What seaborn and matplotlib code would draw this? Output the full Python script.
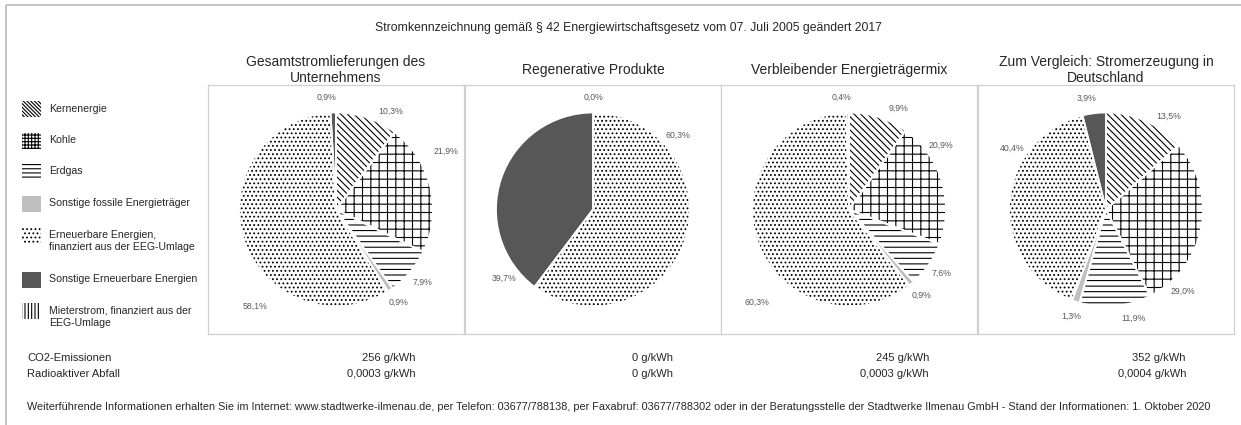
import numpy as np
import matplotlib
matplotlib.use("Agg")
import matplotlib.pyplot as plt
from matplotlib.patches import Rectangle
import seaborn as sns

# --- data ---
categories = [
    "Kernenergie",
    "Kohle",
    "Erdgas",
    "Sonstige fossile Energieträger",
    "Erneuerbare Energien,\nfinanziert aus der EEG-Umlage",
    "Sonstige Erneuerbare Energien",
    "Mieterstrom, finanziert aus der\nEEG-Umlage",
]
panel_titles = [
    "Gesamtstromlieferungen des\nUnternehmens",
    "Regenerative Produkte",
    "Verbleibender Energieträgermix",
    "Zum Vergleich: Stromerzeugung in\nDeutschland",
]
gesamt = [10.3, 21.9, 7.9, 0.9, 58.1, 0.9, 0.0]
regenerativ = [0.0, 0.0, 0.0, 0.0, 60.3, 39.7, 0.0]
verbleibend = [9.9, 20.9, 7.6, 0.9, 60.3, 0.4, 0.0]
deutschland = [13.5, 29.0, 11.9, 1.3, 40.4, 3.9, 0.0]
co2_values = ["256", "0", "245", "352"]
abfall_values = ["0,0003", "0", "0,0003", "0,0004"]

title = "Stromkennzeichnung gemäß § 42 Energiewirtschaftsgesetz vom 07. Juli 2005 geändert 2017"
footer = ("Weiterführende Informationen erhalten Sie im Internet: www.stadtwerke-ilmenau.de, "
          "per Telefon: 03677/788138, per Faxabruf: 03677/788302 oder in der Beratungsstelle "
          "der Stadtwerke Ilmenau GmbH - Stand der Informationen: 1. Oktober 2020")

# --- styling ---
sns.set_theme(style="white")
plt.rcParams["font.family"] = ["Liberation Sans", "DejaVu Sans"]
plt.rcParams["hatch.linewidth"] = 0.8

face_colors = ["white", "white", "white", "#bfbfbf", "white", "#575757", "white"]
pie_hatches = ["\\" * 5, "++", "---", "", "....", "", "||||"]
legend_hatches = ["\\" * 9, "+++++", "----", "", "....", "", "|||||"]
label_color = "#595959"
box_color = "#d0d0d0"

# label placement (angle in degrees, radius in pie radii) where Excel moved labels
label_angles = [
    {0: 61, 1: 28, 4: -130, 5: 95},
    {0: 90, 4: 41, 5: -142},
    {0: 64, 1: 35, 4: -135, 5: 94},
    {0: 56, 1: -47, 2: -76, 4: 147, 5: 100},
]
label_radius = [
    {1: 1.28, 4: 1.3},
    {},
    {4: 1.35},
    {},
]
zero_labels = [[], [0], [], []]

W, H = 1241, 425
fig = plt.figure(figsize=(W / 100, H / 100), dpi=100)

bg = fig.add_axes([0, 0, 1, 1])
bg.set_xlim(0, W)
bg.set_ylim(H, 0)
bg.axis("off")

# outer frame (right/bottom edges fall outside the picture)
bg.add_patch(Rectangle((6, 5), W + 10, H + 10, fill=False, edgecolor="#bfbfbf", lw=1.3))

bg.text(628, 28, title, ha="center", va="center", fontsize=8.8)

# legend
y = 109
for cat, fc, hatch in zip(categories, face_colors, legend_hatches):
    bg.add_patch(Rectangle((22, y - 8), 19, 16, facecolor=fc, hatch=hatch,
                           edgecolor="black", lw=0))
    bg.text(49, y - 5.5, cat, ha="left", va="top", fontsize=7.6, linespacing=1.3)
    y += 31.5 + 13 * cat.count("\n")

# pies
box_left = [208, 465, 721, 978]
box_w, box_top, box_h = 256, 85, 249
radius_px = 97
panels = [gesamt, regenerativ, verbleibend, deutschland]

for i, values in enumerate(panels):
    ax = fig.add_axes([box_left[i] / W, 1 - (box_top + box_h) / H, box_w / W, box_h / H])
    ax.pie(values, startangle=90, counterclock=False, colors=face_colors,
           hatch=pie_hatches, wedgeprops=dict(edgecolor="black", linewidth=0),
           frame=True)
    wedges, _ = ax.pie(values, startangle=90, counterclock=False,
                       colors=["none"] * len(values),
                       wedgeprops=dict(edgecolor="white", linewidth=1.3), frame=True)
    for j, (w, v) in enumerate(zip(wedges, values)):
        if v <= 0 and j not in zero_labels[i]:
            continue
        ang = label_angles[i].get(j, (w.theta1 + w.theta2) / 2)
        r = label_radius[i].get(j, 1.16)
        txt = f"{v:.1f}".replace(".", ",") + "%"
        ax.text(r * np.cos(np.radians(ang)), r * np.sin(np.radians(ang)), txt,
                ha="center", va="center", fontsize=6.3, color=label_color)
    ax.set_xlim(-box_w / 2 / radius_px, box_w / 2 / radius_px)
    ax.set_ylim(-box_h / 2 / radius_px, box_h / 2 / radius_px)
    ax.set_aspect("equal", adjustable="datalim")
    ax.set_xticks([])
    ax.set_yticks([])
    for s in ax.spines.values():
        s.set_visible(True)
        s.set_color(box_color)
        s.set_linewidth(0.9)

    cx = box_left[i] + box_w / 2
    bg.text(cx, 70, panel_titles[i], ha="center", va="center", fontsize=10,
            linespacing=1.15)
    right = box_left[i] + box_w - 48
    bg.text(right, 358, f"{co2_values[i]} g/kWh", ha="right", va="center", fontsize=8)
    bg.text(right, 374, f"{abfall_values[i]} g/kWh", ha="right", va="center", fontsize=8)

bg.text(27, 358, "CO2-Emissionen", ha="left", va="center", fontsize=8)
bg.text(27, 374, "Radioaktiver Abfall", ha="left", va="center", fontsize=8)
bg.text(27, 407, footer, ha="left", va="center", fontsize=7.85)

fig.savefig("out.png", dpi=100)
